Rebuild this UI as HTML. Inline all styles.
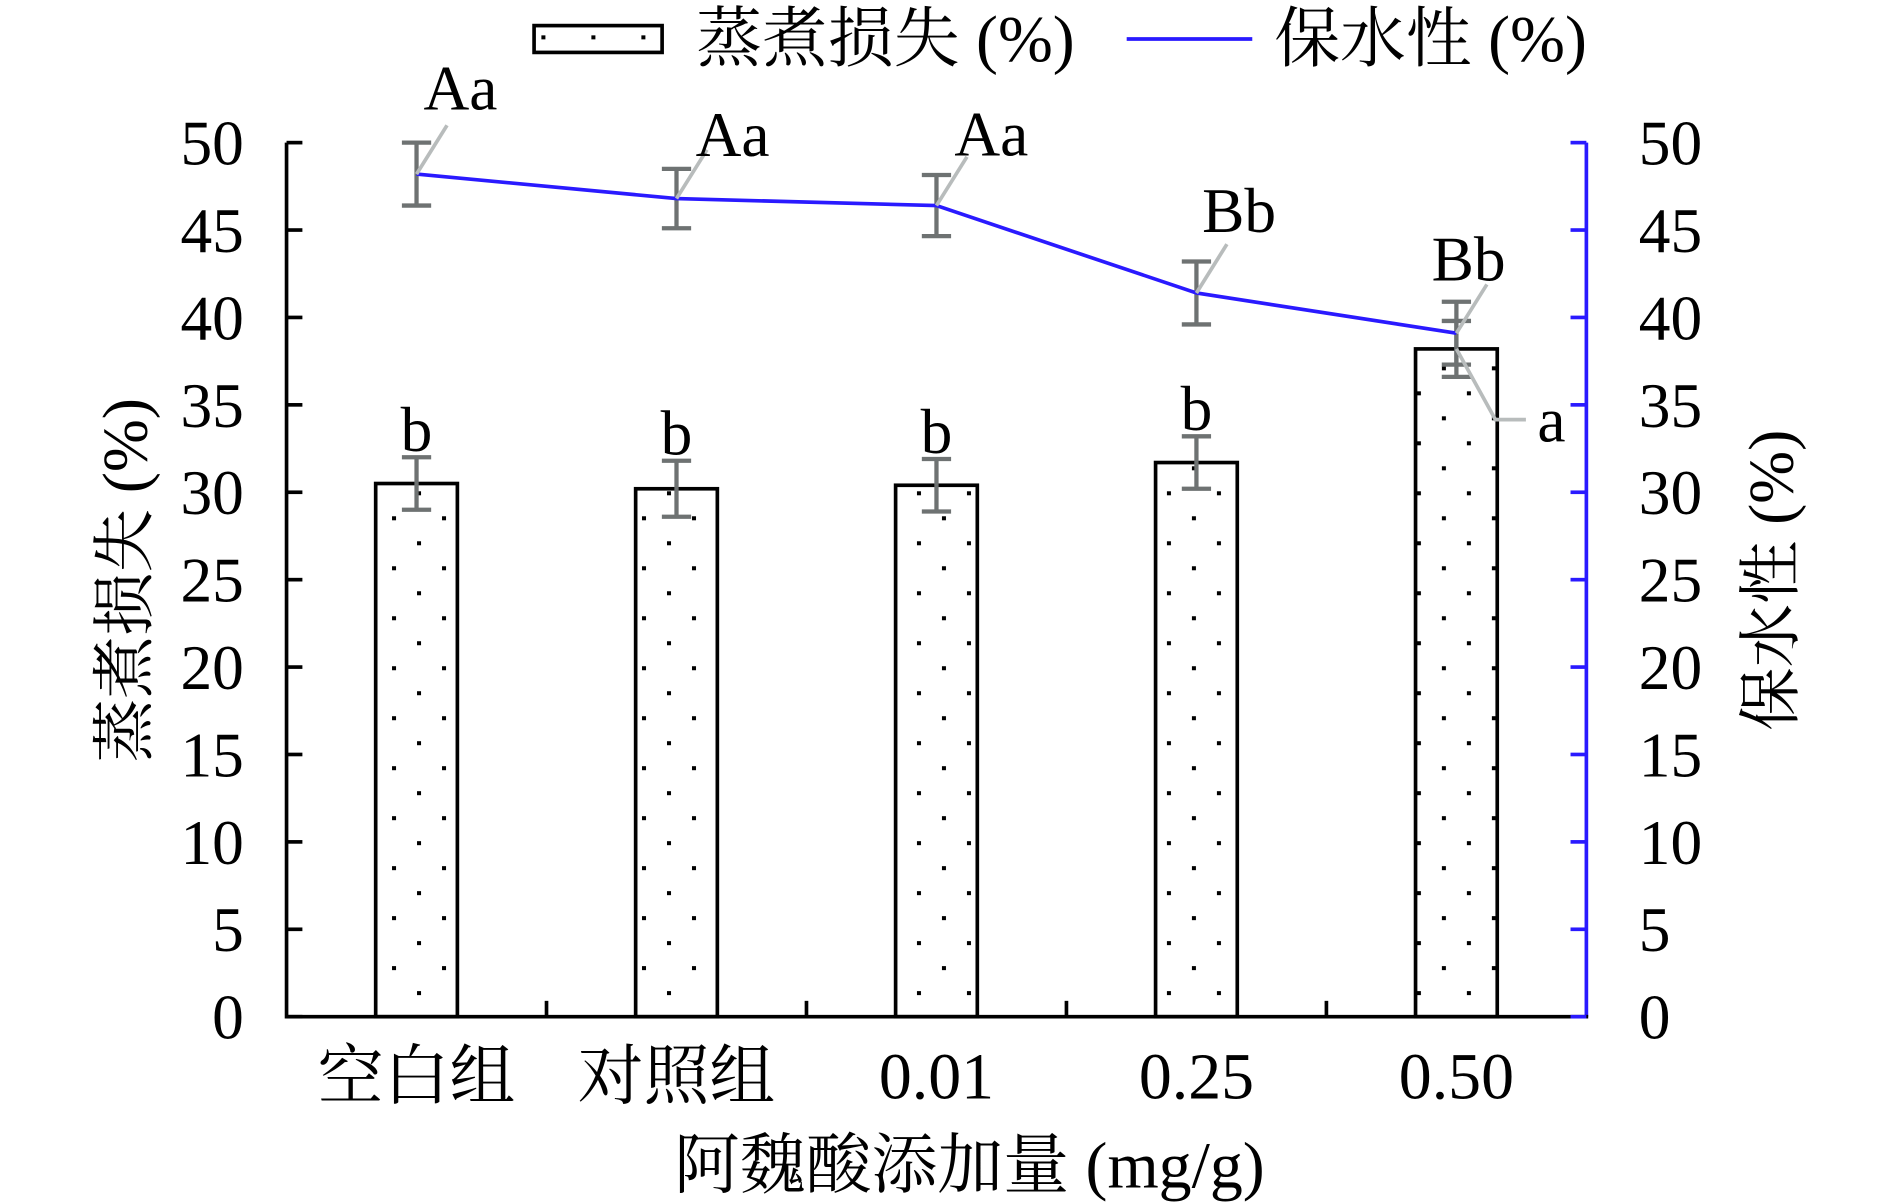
<!DOCTYPE html>
<html><head><meta charset="utf-8">
<style>
html,body{margin:0;padding:0;background:#fff;}
svg{display:block;}
text{font-family:"Liberation Serif","Noto Serif CJK SC","Noto Sans CJK SC",serif;fill:#000;}
</style></head>
<body>
<svg id="chart" width="1890" height="1202" viewBox="0 0 1550 986" preserveAspectRatio="none" xmlns="http://www.w3.org/2000/svg">
<defs>
<pattern id="dots" patternUnits="userSpaceOnUse" x="321.5" y="423.5" width="41" height="41">
<rect x="0" y="0" width="3.3" height="3.3" fill="#000"/>
<rect x="20.5" y="20.5" width="3.3" height="3.3" fill="#000"/>
</pattern>
<pattern id="ldots" patternUnits="userSpaceOnUse" x="444" y="29" width="41" height="41">
<rect x="0" y="0" width="3.3" height="3.3" fill="#000"/>
</pattern>
</defs>
<g id="legend">
<rect x="438" y="21" width="105" height="22" fill="url(#ldots)" stroke="#000" stroke-width="3"/>
<text x="571" y="50" font-size="54">蒸煮损失 (%)</text>
<line x1="924" y1="32" x2="1027" y2="32" stroke="#2a1aff" stroke-width="3"/>
<text x="1045" y="50" font-size="54">保水性 (%)</text>
</g>
<g id="plot"></g>
<text transform="translate(120,476) rotate(-90)" text-anchor="middle" font-size="52">蒸煮损失 (%)</text>
<text transform="translate(1470,476) rotate(-90)" text-anchor="middle" font-size="52">保水性 (%)</text>
<text x="795" y="974" text-anchor="middle" font-size="54">阿魏酸添加量 (mg/g)</text>
</svg>
<script>
const categories = ["空白组","对照组","0.01","0.25","0.50"];
const cookingLoss = [30.5, 30.2, 30.4, 31.7, 38.2];
const cookingLossErr = [1.5, 1.6, 1.5, 1.5, 1.6];
const waterHolding = [48.2, 46.8, 46.4, 41.4, 39.1];
const waterHoldingErr = [1.8, 1.7, 1.75, 1.8, 1.8];
const barLetters = ["b","b","b","b","a"];
const lineLetters = ["Aa","Aa","Aa","Bb","Bb"];
const yTicks = [0,5,10,15,20,25,30,35,40,45,50];

const NS="http://www.w3.org/2000/svg";
const g=document.getElementById('plot');
const X0=235, X1=1301, Y0=834, Y1=117, YMAX=50;
const band=(X1-X0)/categories.length;
const xc=i=>X0+band*(i+0.5);
const y=v=>Y0-(v/YMAX)*(Y0-Y1);
const BW=67;
const labelDx=[36,46,45,35,10], labelDy=[-53,-35,-41,-50,-43];
function mk(tag,attrs){const e=document.createElementNS(NS,tag);for(const k in attrs)e.setAttribute(k,attrs[k]);g.appendChild(e);return e;}

cookingLoss.forEach((v,i)=>{
  const r=mk('rect',{x:xc(i)-BW/2,y:y(v),width:BW,height:Y0-y(v),fill:'url(#dots)',stroke:'#000','stroke-width':3});
  
  
});
const la=mk('line',{x1:X0,y1:Y1,x2:X0,y2:Y0+1.5,stroke:'#000','stroke-width':3});


const ra=mk('line',{x1:X1,y1:Y1,x2:X1,y2:Y0,stroke:'#2a1aff','stroke-width':3});


const xa=mk('line',{x1:X0,y1:Y0,x2:X1+1.5,y2:Y0,stroke:'#000','stroke-width':3});


yTicks.forEach(t=>{
  const a=mk('line',{x1:X0,y1:y(t),x2:X0+13,y2:y(t),stroke:'#000','stroke-width':3});
  
  
  const b=mk('line',{x1:X1-13,y1:y(t),x2:X1,y2:y(t),stroke:'#2a1aff','stroke-width':3});
  
  
  const l=mk('text',{x:200,y:y(t)+18,'text-anchor':'end','font-size':52});
  l.textContent=t;
  
  
  const r=mk('text',{x:1344,y:y(t)+18,'font-size':52});
  r.textContent=t;
  
  
});
for(let i=1;i<categories.length;i++){
  const t=mk('line',{x1:X0+band*i,y1:Y0,x2:X0+band*i,y2:Y0-13,stroke:'#000','stroke-width':3});
  
  
}
categories.forEach((c,i)=>{
  const t=mk('text',{x:xc(i),y:901,'text-anchor':'middle','font-size':54});
  t.textContent=c;
  
  
});
function errBar(cx,v,e,name){
  const grp=document.createElementNS(NS,'g');
  
  
  [[cx,y(v+e),cx,y(v-e)],[cx-12,y(v+e),cx+12,y(v+e)],[cx-12,y(v-e),cx+12,y(v-e)]].forEach(p=>{
    const l=document.createElementNS(NS,'line');
    l.setAttribute('x1',p[0]);l.setAttribute('y1',p[1]);l.setAttribute('x2',p[2]);l.setAttribute('y2',p[3]);
    l.setAttribute('stroke','#6e7272');l.setAttribute('stroke-width',3.5);
    grp.appendChild(l);
  });
  g.appendChild(grp);
}
cookingLoss.forEach((v,i)=>errBar(xc(i),v,cookingLossErr[i],'bar-error-'+i));
waterHolding.forEach((v,i)=>errBar(xc(i),v,waterHoldingErr[i],'line-error-'+i));
const pts=waterHolding.map((v,i)=>xc(i)+','+y(v)).join(' ');
const pl=mk('polyline',{points:pts,fill:'none',stroke:'#2a1aff','stroke-width':3});


waterHolding.forEach((v,i)=>{
  const px=xc(i), py=y(v);
  const ld=mk('line',{x1:px,y1:py,x2:px+25,y2:py-40,stroke:'#b8bcbc','stroke-width':3});
  
  
  const t=mk('text',{x:px+labelDx[i],y:py+labelDy[i],'text-anchor':'middle','font-size':52});
  t.textContent=lineLetters[i];
  
  
});
cookingLoss.forEach((v,i)=>{
  if(i===categories.length-1){
    const px=xc(i), py=y(v);
    const ld=mk('polyline',{points:`${px},${py} ${px+32},${py+58} ${px+57},${py+58}`,fill:'none',stroke:'#b8bcbc','stroke-width':3});
    
    
    const t=mk('text',{x:px+78,y:py+76,'text-anchor':'middle','font-size':52});
    t.textContent=barLetters[i];
    
    
  } else {
    const t=mk('text',{x:xc(i),y:y(v+cookingLossErr[i])-5,'text-anchor':'middle','font-size':52});
    t.textContent=barLetters[i];
    
    
  }
});
</script>
</body></html>
